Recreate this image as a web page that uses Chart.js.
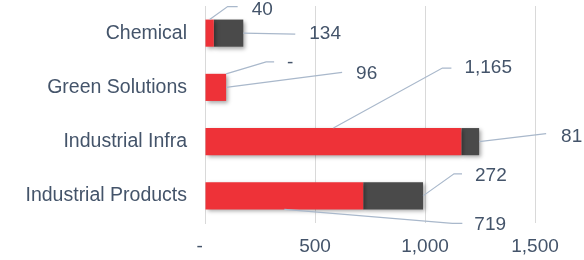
<!DOCTYPE html>
<html>
<head>
<meta charset="utf-8">
<script src="https://cdn.jsdelivr.net/npm/chart.js@4/dist/chart.umd.min.js"></script>
<style>
  html, body { margin: 0; padding: 0; background: #ffffff; }
  #wrap { width: 584px; height: 260px; position: relative; }
</style>
</head>
<body>
<div id="wrap"><canvas id="c" width="584" height="260"></canvas></div>
<script>
// ---- data ----
const categories = ['Chemical', 'Green Solutions', 'Industrial Infra', 'Industrial Products'];
const redValues  = [40, 96, 1165, 719];
const darkValues = [134, 0, 81, 272];
const xTickValues = [0, 500, 1000, 1500];
const xTickLabels = ['-  ', '500', '1,000', '1,500'];

// ---- styles ----
const RED = '#EE3238';
const DARK = '#4A4A4A';
const TEXT = '#44546A';
const LEADER = '#A9B8CB';
const GRID = '#D9D9D9';
const FONT = "'Liberation Sans', Arial, sans-serif";

function fmt(v) { return v === 0 ? '-' : v.toLocaleString('en-US'); }

// label placement (pixel offsets relative to an anchor on each bar segment)
const labelLayout = [
  [ // red
    { anchor: 'midTop',    elbow: [18, -13],  end: [28, -13],  text: [42, -10] },
    { anchor: 'endMid',    elbow: null,       end: [116, -15], text: [130, -14] },
    { anchor: 'midTop',    elbow: [109, -60], end: [118, -60], text: [131, -60] },
    { anchor: 'midBottom', elbow: [168, 14],  end: [178, 14],  text: [190, 15] }
  ],
  [ // dark
    { anchor: 'endMid',    elbow: null,       end: [52, 1],    text: [66, 1] },
    { anchor: 'midTop',    elbow: [40, -12],  end: [48, -12],  text: [61, -11] },
    { anchor: 'endMid',    elbow: null,       end: [67, -8],   text: [82, -5] },
    { anchor: 'endMid',    elbow: [31, -22],  end: [39, -22],  text: [52, -20] }
  ]
];

const shadowPlugin = {
  id: 'barShadow',
  beforeDatasetsDraw(chart) {
    const ctx = chart.ctx;
    ctx.save();
    ctx.shadowColor = 'rgba(0,0,0,0.35)';
    ctx.shadowBlur = 4;
    ctx.shadowOffsetX = 2;
    ctx.shadowOffsetY = 2;
  },
  afterDatasetsDraw(chart) {
    chart.ctx.restore();
  }
};

const calloutPlugin = {
  id: 'callouts',
  afterDraw(chart) {
    const ctx = chart.ctx;
    ctx.save();
    ctx.font = '19px ' + FONT;
    ctx.fillStyle = TEXT;
    ctx.strokeStyle = LEADER;
    ctx.lineWidth = 1.2;
    ctx.textAlign = 'left';
    ctx.textBaseline = 'middle';
    chart.data.datasets.forEach((ds, di) => {
      const meta = chart.getDatasetMeta(di);
      meta.data.forEach((el, i) => {
        const p = el.getProps(['x', 'y', 'base', 'height'], true);
        const h = p.height;
        const mid = (p.x + p.base) / 2;
        const lay = labelLayout[di][i];
        let ax, ay;
        if (lay.anchor === 'midTop') { ax = mid; ay = p.y - h / 2; }
        else if (lay.anchor === 'midBottom') { ax = mid; ay = p.y + h / 2; }
        else { ax = p.x; ay = p.y; }
        ctx.beginPath();
        ctx.moveTo(ax, ay);
        if (lay.elbow) ctx.lineTo(ax + lay.elbow[0], ay + lay.elbow[1]);
        ctx.lineTo(ax + lay.end[0], ay + lay.end[1]);
        ctx.stroke();
        ctx.fillText(fmt(ds.data[i]), ax + lay.text[0], ay + lay.text[1]);
      });
    });
    ctx.restore();
  }
};

new Chart(document.getElementById('c'), {
  type: 'bar',
  data: {
    labels: categories,
    datasets: [
      { label: 'A', data: redValues, backgroundColor: RED, borderWidth: 0,
        categoryPercentage: 1, barPercentage: 0.5 },
      { label: 'B', data: darkValues, backgroundColor: DARK, borderWidth: 0,
        categoryPercentage: 1, barPercentage: 0.5 }
    ]
  },
  options: {
    indexAxis: 'y',
    responsive: false,
    animation: false,
    devicePixelRatio: 1,
    layout: { padding: { top: 6, right: 49, bottom: 0, left: 0 } },
    plugins: { legend: { display: false }, tooltip: { enabled: false } },
    scales: {
      x: {
        stacked: true,
        min: 0, max: 1500,
        afterBuildTicks(scale) { scale.ticks = xTickValues.map(v => ({ value: v })); },
        afterFit(scale) { scale.height = 37; scale.paddingLeft = 0; scale.paddingRight = 0; },
        grid: { color: GRID, lineWidth: 1, drawTicks: false },
        border: { display: false },
        ticks: {
          padding: 12,
          color: TEXT,
          font: { family: FONT, size: 19 },
          maxRotation: 0,
          callback(value, index) { return xTickLabels[xTickValues.indexOf(value)]; }
        }
      },
      y: {
        stacked: true,
        afterFit(scale) { scale.width = 205; scale.paddingTop = 0; scale.paddingBottom = 0; },
        grid: { display: false, drawTicks: false },
        border: { display: true, color: GRID, width: 1 },
        ticks: {
          padding: 18,
          color: TEXT,
          font: { family: FONT, size: 19.5 }
        }
      }
    }
  },
  plugins: [shadowPlugin, calloutPlugin]
});
</script>
</body>
</html>
